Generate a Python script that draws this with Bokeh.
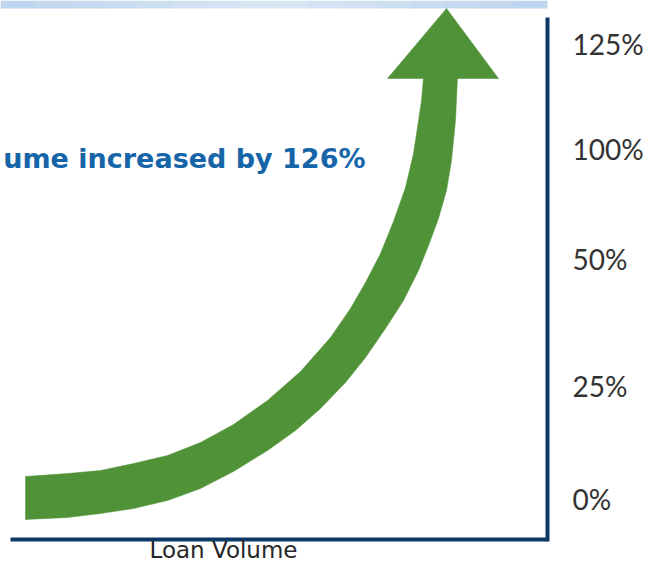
from bokeh.plotting import figure
from bokeh.models import Range1d, LinearAxis, FixedTicker, BoxAnnotation
from bokeh.core.properties import value
from bokeh.embed import file_html
from bokeh.resources import INLINE

# y-axis tick slots (chart units) and their labels
tick_pos = [40, 153, 280, 390, 495]
tick_labels = ["0%", "25%", "50%", "100%", "125%"]

# growth arrow: upper/left edge and lower/right edge of the curved shaft (chart units)
upper_x = [15, 57, 90, 123, 157, 190, 223, 257, 290, 320, 340, 355, 370, 383, 395, 403, 408, 411, 413]
upper_y = [62, 65, 68, 75, 83, 96, 114, 138, 167, 201, 230, 256, 285, 317, 351, 385, 418, 438, 461]
lower_x = [15, 57, 90, 123, 157, 190, 223, 257, 285, 310, 335, 355, 375, 393, 408, 418, 428, 436, 441, 445, 447]
lower_y = [19, 21, 25, 30, 38, 50, 67, 88, 108, 130, 156, 181, 210, 238, 268, 293, 320, 348, 378, 418, 461]
# arrow head
head_x = [377, 436, 488]
head_y = [460, 530, 460]

# headline as visible in the picture (its start is cropped off there)
headline = ["ume increased by 126%"]
headline_x = [355]
headline_y = [380]
x_title = ["Loan Volume"]
x_title_x = [213]
x_title_y = [-11]

NAVY = "#0c3866"
GREEN = "#509237"
BLUE = "#1665a8"

p = figure(width=649, height=563, output_backend="svg", toolbar_location=None,
           x_range=Range1d(-10, 537), y_range=Range1d(-25, 538),
           x_axis_location=None, y_axis_location=None,
           min_border_left=0, min_border_right=102, min_border_top=0, min_border_bottom=0)
p.grid.visible = False
p.outline_line_color = None
p.background_fill_color = "white"
p.border_fill_color = "white"

# light blue band along the top (horizontal gradient approximated with strips)
n_strips = 16
edge_rgb = (188, 212, 238)
mid_rgb = (216, 231, 244)
span = 547
for i in range(n_strips):
    t = abs((i + 0.5) / n_strips - 0.5) * 2
    rgb = tuple(int(round(m + (e - m) * t)) for e, m in zip(edge_rgb, mid_rgb))
    p.add_layout(BoxAnnotation(left=-10 + span * i / n_strips, right=-10 + span * (i + 1) / n_strips + 1.5,
                               bottom=530, top=538, fill_color="#%02x%02x%02x" % rgb, fill_alpha=1,
                               line_color=None, level="underlay"))

# arrow
p.patch(upper_x + lower_x[::-1], upper_y + lower_y[::-1], fill_color=GREEN, line_color=GREEN,
        line_width=0.5, line_join="round")
p.patch(head_x, head_y, fill_color=GREEN, line_color=GREEN, line_width=0.5)

# x baseline
p.segment(x0=[0], y0=[-1], x1=[539], y1=[-1], line_color=NAVY, line_width=4)

p.text(x=headline_x, y=headline_y, text=headline, text_align="right", text_baseline="middle",
       text_font=value("DejaVu Sans"), text_font_style="bold", text_font_size="27px", text_color=BLUE)

p.text(x=x_title_x, y=x_title_y, text=x_title, text_align="center", text_baseline="middle",
       text_font=value("DejaVu Sans"), text_font_size="23px", text_color="#262626")

yax = LinearAxis(ticker=FixedTicker(ticks=tick_pos),
                 major_label_overrides={pos: lab for pos, lab in zip(tick_pos, tick_labels)},
                 bounds=(-3, 521))
yax.axis_line_color = NAVY
yax.axis_line_width = 4
yax.major_tick_line_color = None
yax.minor_tick_line_color = None
yax.major_tick_out = 0
yax.major_tick_in = 0
yax.major_label_standoff = 25
yax.major_label_text_font = "Lato"
yax.major_label_text_font_size = "28px"
yax.major_label_text_color = "#333333"
p.add_layout(yax, "right")

open("out.html", "w").write(file_html(p, INLINE))
